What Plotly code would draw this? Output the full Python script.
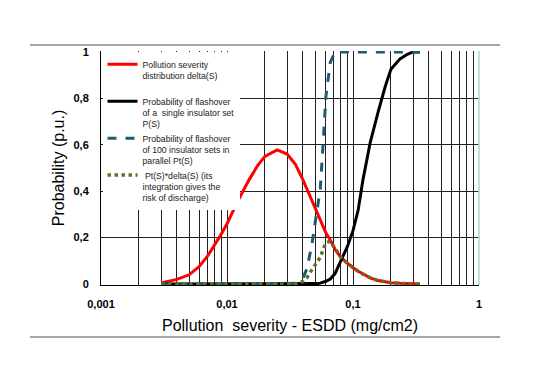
import plotly.graph_objects as go

# ---- data ----
S = [0.003, 0.004, 0.005, 0.006, 0.007, 0.008, 0.009, 0.01, 0.0125, 0.015, 0.0175, 0.02,
     0.025, 0.03, 0.035, 0.04, 0.043, 0.047, 0.052, 0.055, 0.058, 0.061, 0.066, 0.072,
     0.08, 0.09, 0.1, 0.11, 0.12, 0.137, 0.158, 0.18, 0.2, 0.236, 0.27, 0.3, 0.34]

delta_S = [0.005, 0.02, 0.04, 0.075, 0.12, 0.17, 0.215, 0.26, 0.37, 0.45, 0.51, 0.55,
           0.578, 0.56, 0.515, 0.45, 0.41, 0.36, 0.31, 0.28, 0.25, 0.22, 0.19, 0.15,
           0.115, 0.09, 0.07, 0.055, 0.043, 0.027, 0.015, 0.009, 0.006, 0.003, 0.001, 0.0005, 0.0]

P_S = [0, 0, 0, 0, 0, 0, 0, 0, 0, 0, 0, 0, 0, 0, 0, 0, 0, 0,
       0.002, 0.004, 0.007, 0.012, 0.022, 0.045, 0.1, 0.16, 0.23, 0.32, 0.45, 0.61,
       0.74, 0.85, 0.925, 0.97, 0.99, 1.0, 1.0]

Pt_S = [0, 0, 0, 0, 0, 0, 0, 0, 0, 0, 0, 0, 0, 0,
        0.003, 0.025, 0.065, 0.165, 0.32, 0.41, 0.61, 0.81, 0.955, 1.0,
        1.0, 1.0, 1.0, 1.0, 1.0, 1.0, 1.0, 1.0, 1.0, 1.0, 1.0, 1.0, 1.0]

Pt_delta = [0, 0, 0, 0, 0, 0, 0, 0, 0, 0, 0, 0, 0, 0,
            0.0, 0.011, 0.027, 0.06, 0.1, 0.115, 0.15, 0.178, 0.185, 0.15,
            0.115, 0.09, 0.07, 0.055, 0.043, 0.027, 0.015, 0.009, 0.006, 0.003, 0.001, 0.0005, 0.0]

names = [
    "Pollution severity<br>distribution delta(S)<br> ",
    "Probability of flashover<br>of a  single insulator set<br>P(S)",
    "Probability of flashover<br>of 100 insulator sets in<br>parallel Pt(S)",
    " Pt(S)*delta(S) (its<br>integration gives the<br>risk of discharge)",
]

decades = [0.001, 0.01, 0.1]
x_tick_vals = [d * m for d in decades for m in range(1, 10)] + [1]
x_tick_text = []
for v in x_tick_vals:
    x_tick_text.append({0.001: "0,001", 0.01: "0,01", 0.1: "0,1", 1: "1"}.get(round(v, 6), ""))

y_tick_vals = [0, 0.2, 0.4, 0.6, 0.8, 1]
y_tick_text = ["0", "0,2", "0,4", "0,6", "0,8", "1"]

fig = go.Figure()
fig.add_trace(go.Scatter(x=S, y=delta_S, mode="lines", name=names[0],
                         line=dict(color="#ff0000", width=3)))
fig.add_trace(go.Scatter(x=S, y=P_S, mode="lines", name=names[1],
                         line=dict(color="#000000", width=3)))
fig.add_trace(go.Scatter(x=S, y=Pt_S, mode="lines", name=names[2],
                         line=dict(color="#1d5b6e", width=3, dash="dash")))
fig.add_trace(go.Scatter(x=S, y=Pt_delta, mode="lines", name=names[3],
                         line=dict(color="#5f7327", width=3.5, dash="dot")))

# the page body has an 8px default margin, so the figure is sized 8px smaller
fig.update_layout(
    width=530, height=372,
    margin=dict(l=93, r=59, t=43, b=95),
    paper_bgcolor="white", plot_bgcolor="white",
    font=dict(family="Arial, Liberation Sans, sans-serif", color="#000000"),
    showlegend=True,
    legend=dict(
        x=0.004, y=0.995, xanchor="left", yanchor="top",
        bgcolor="white", borderwidth=0,
        font=dict(size=8.7, color="#222222"),
        valign="top", tracegroupgap=0,
    ),
    xaxis=dict(
        type="log", range=[-3, 0],
        tickvals=x_tick_vals, ticktext=x_tick_text,
        tickfont=dict(size=11, weight="bold"),
        ticks="", ticklabelstandoff=9,
        showgrid=True, gridcolor="#222222", gridwidth=1,
        showline=True, linecolor="#000000", linewidth=1,
        zeroline=False,
        title=dict(text="Pollution  severity - ESDD (mg/cm2)", font=dict(size=16), standoff=10),
    ),
    yaxis=dict(
        range=[-0.004, 1.004],
        tickvals=y_tick_vals, ticktext=y_tick_text,
        tickfont=dict(size=11, weight="bold"),
        ticks="", ticklabelstandoff=9,
        showgrid=True, gridcolor="#222222", gridwidth=1,
        showline=True, linecolor="#000000", linewidth=1,
        zeroline=False,
        title=dict(text="Probability (p.u.)", font=dict(size=16), standoff=4),
    ),
    shapes=[
        dict(type="line", xref="paper", yref="paper", x0=1, x1=1, y0=0, y1=1,
             line=dict(color="#a6dcc0", width=1.5)),
        dict(type="line", xref="paper", yref="paper", x0=-0.188, x1=1.056, y0=1.026, y1=1.026,
             line=dict(color="#a6a6a6", width=2)),
        dict(type="line", xref="paper", yref="paper", x0=-0.188, x1=1.056, y0=-0.222, y1=-0.222,
             line=dict(color="#a6a6a6", width=2)),
    ],
)

fig.write_html("out.html")
